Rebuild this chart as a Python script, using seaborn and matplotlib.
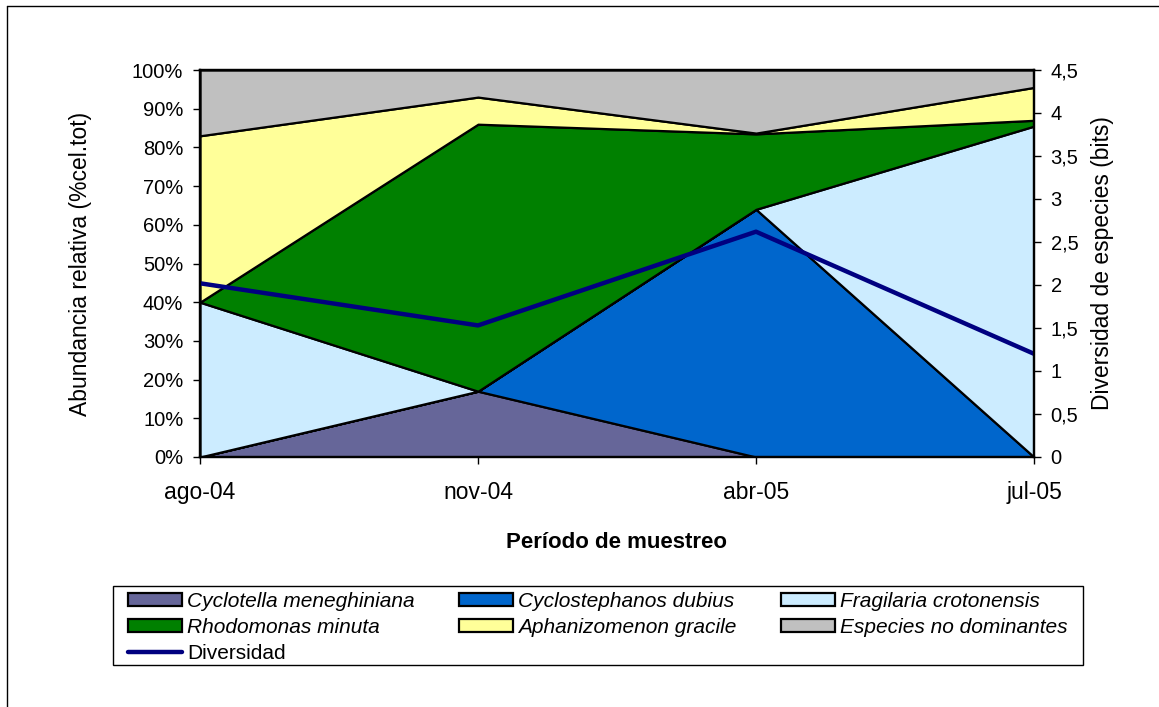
import matplotlib as mpl
mpl.use("Agg")
import matplotlib.pyplot as plt
import seaborn as sns
import numpy as np
import pandas as pd
from matplotlib.lines import Line2D
from matplotlib.patches import Patch, Rectangle
from matplotlib.ticker import FuncFormatter

sns.set_theme(style="white")
plt.rcParams['font.family'] = ['Liberation Sans', 'DejaVu Sans']
plt.rcParams.update({'text.color': 'black', 'axes.labelcolor': 'black',
                     'xtick.color': 'black', 'ytick.color': 'black'})

# data (% of total cells, cumulative order bottom -> top)
periodos = ['ago-04', 'nov-04', 'abr-05', 'jul-05']
cyclotella = [0, 17, 0, 0]
cyclostephanos = [0, 0, 64, 0]
fragilaria = [40, 0, 0, 85.5]
rhodomonas = [0, 69, 19.5, 1.5]
aphanizomenon = [43, 7, 0.2, 8.5]
no_dominantes = [17, 7, 16.3, 4.5]
diversidad = [2.02, 1.53, 2.62, 1.20]

especies = ['Cyclotella meneghiniana', 'Cyclostephanos dubius', 'Fragilaria crotonensis',
            'Rhodomonas minuta', 'Aphanizomenon gracile', 'Especies no dominantes']
colores = ['#666699', '#0066CC', '#CCECFF', '#008000', '#FFFF99', '#C0C0C0']
color_div = '#000080'

df = pd.DataFrame({'periodo': periodos, 'diversidad': diversidad})
df['x'] = np.arange(len(periodos))

fig = plt.figure(figsize=(11.59, 7.07), dpi=100)
ax = fig.add_axes([200/1159, 1-457/707, (1034-200)/1159, (457-70)/707])

ax.stackplot(df['x'], cyclotella, cyclostephanos, fragilaria, rhodomonas,
             aphanizomenon, no_dominantes, colors=colores,
             edgecolor='black', linewidth=1.6)
ax.set_xlim(0, 3)
ax.set_ylim(0, 100)
ax.set_yticks(np.arange(0, 101, 10))
ax.yaxis.set_major_formatter(FuncFormatter(lambda v, p: f"{int(v)}%"))
ax.set_xticks(df['x'])
ax.set_xticklabels(periodos)
ax.set_ylabel('Abundancia relativa (%cel.tot)', fontsize=16.5, labelpad=29)
ax.set_xlabel('Período de muestreo', fontsize=16, fontweight='bold', labelpad=20.5)
ax.tick_params(axis='y', labelsize=14.5, length=5, width=1, direction='out', left=True, pad=7)
ax.tick_params(axis='x', labelsize=16.5, length=5, width=1, direction='out', bottom=True, pad=12)
ax.grid(False)

ax2 = ax.twinx()
sns.lineplot(data=df, x='x', y='diversidad', ax=ax2, color=color_div, linewidth=3.2,
             solid_capstyle='round')
ax2.set_ylim(0, 4.5)
ax2.set_yticks(np.arange(0, 4.51, 0.5))
ax2.yaxis.set_major_formatter(FuncFormatter(
    lambda v, p: (f"{v:g}").replace('.', ',')))
ax2.set_ylabel('Diversidad de especies (bits)', fontsize=16.5, labelpad=9)
ax2.set_xlabel('')
ax2.tick_params(axis='y', labelsize=14.5, length=5, width=1, direction='out', right=True, pad=7)
ax2.grid(False)
ax.set_xlim(0, 3)

for a in (ax, ax2):
    for s in a.spines.values():
        s.set_color('black')
        s.set_linewidth(1.6)

# legend, filled column-wise so rows read like the reference
handles = [Patch(facecolor=c, edgecolor='black', linewidth=1.6) for c in colores]
div_handle = Line2D([0], [0], color=color_div, linewidth=3.2)
order = [0, 3, None, 1, 4, 2, 5]
h_ord, l_ord = [], []
for i in order:
    if i is None:
        h_ord.append(div_handle)
        l_ord.append('Diversidad')
    else:
        h_ord.append(handles[i])
        l_ord.append(especies[i])

W, H = 1159, 707
fig.add_artist(Rectangle((113/W, 1-665/H), (1083-113)/W, (665-586)/H,
                         transform=fig.transFigure, facecolor='white',
                         edgecolor='black', linewidth=1.0, zorder=1))
leg = fig.legend(h_ord, l_ord, ncol=3, loc='upper left',
                 bbox_to_anchor=(128/W, 1-599/H, (1068-128)/W, 0.01),
                 mode='expand', fontsize=15, frameon=False, borderpad=0,
                 labelspacing=0.34, handlelength=2.6, handleheight=0.55,
                 handletextpad=0.25, borderaxespad=0)
leg.set_zorder(2)
for t in leg.get_texts():
    if t.get_text() != 'Diversidad':
        t.set_fontstyle('italic')

# outer chart frame (only left and top visible in the reference crop)
fig.add_artist(Line2D([7/W, 7/W], [0, 1-6/H], transform=fig.transFigure,
                      color='black', linewidth=1))
fig.add_artist(Line2D([7/W, 1], [1-6/H, 1-6/H], transform=fig.transFigure,
                      color='black', linewidth=1))

fig.savefig('out.png', dpi=100)
